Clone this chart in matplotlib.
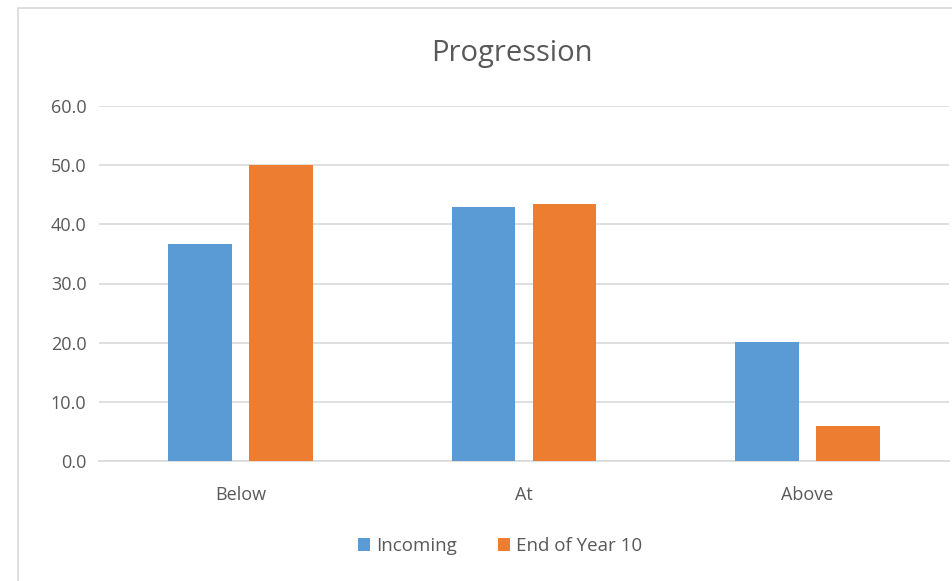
import matplotlib
matplotlib.use("Agg")
import matplotlib.pyplot as plt
import numpy as np
from matplotlib.patches import Rectangle

categories = ["Below", "At", "Above"]
incoming = [36.6, 43.0, 20.1]
end_year10 = [50.1, 43.5, 6.0]
series_names = ["Incoming", "End of Year 10"]
yticks = [0, 10, 20, 30, 40, 50, 60]

plt.rcParams['font.family'] = ['Open Sans', 'DejaVu Sans']
txt = '#595959'

W, H = 953, 581
fig = plt.figure(figsize=(W/100, H/100), dpi=100)
fig.patch.set_facecolor('white')
fig.patches.append(Rectangle((18/W, -0.05), 1, 1.05 - 8/H, transform=fig.transFigure,
                             fill=False, edgecolor='#d9d9d9', linewidth=1.2))

ax = fig.add_axes([99/W, 1 - 461/H, (949-99)/W, (461-106)/H])
x = np.arange(len(categories))
bw = 0.225
off = 0.143
ax.bar(x - off, incoming, bw, color='#5b9bd5', label=series_names[0], zorder=3)
ax.bar(x + off, end_year10, bw, color='#ed7d31', label=series_names[1], zorder=3)

ax.set_xlim(-0.5, 2.5)
ax.set_ylim(0, 60)
ax.set_yticks(yticks)
ax.set_yticklabels([f"{v:.1f}" for v in yticks], color=txt, fontsize=13)
ax.set_xticks(x)
ax.set_xticklabels(categories, color=txt, fontsize=13)
ax.tick_params(axis='x', length=0, pad=18)
ax.tick_params(axis='y', length=0, pad=9)
ax.grid(axis='y', color='#d9d9d9', linewidth=1.2, zorder=0)
for s in ['top', 'right', 'left']:
    ax.spines[s].set_visible(False)
ax.spines['bottom'].set_color('#d9d9d9')
ax.spines['bottom'].set_linewidth(1.2)

fig.text(512/W, 1 - 54/H, "Progression", ha='center', va='center', fontsize=21, color=txt)

leg = fig.legend(loc='center', bbox_to_anchor=(500/W, 1 - 546/H), ncol=2, frameon=False,
                 fontsize=13.5, handlelength=0.65, handleheight=0.65, handletextpad=0.3,
                 columnspacing=2.2)
for t in leg.get_texts():
    t.set_color(txt)

fig.savefig("out.png", dpi=100)
